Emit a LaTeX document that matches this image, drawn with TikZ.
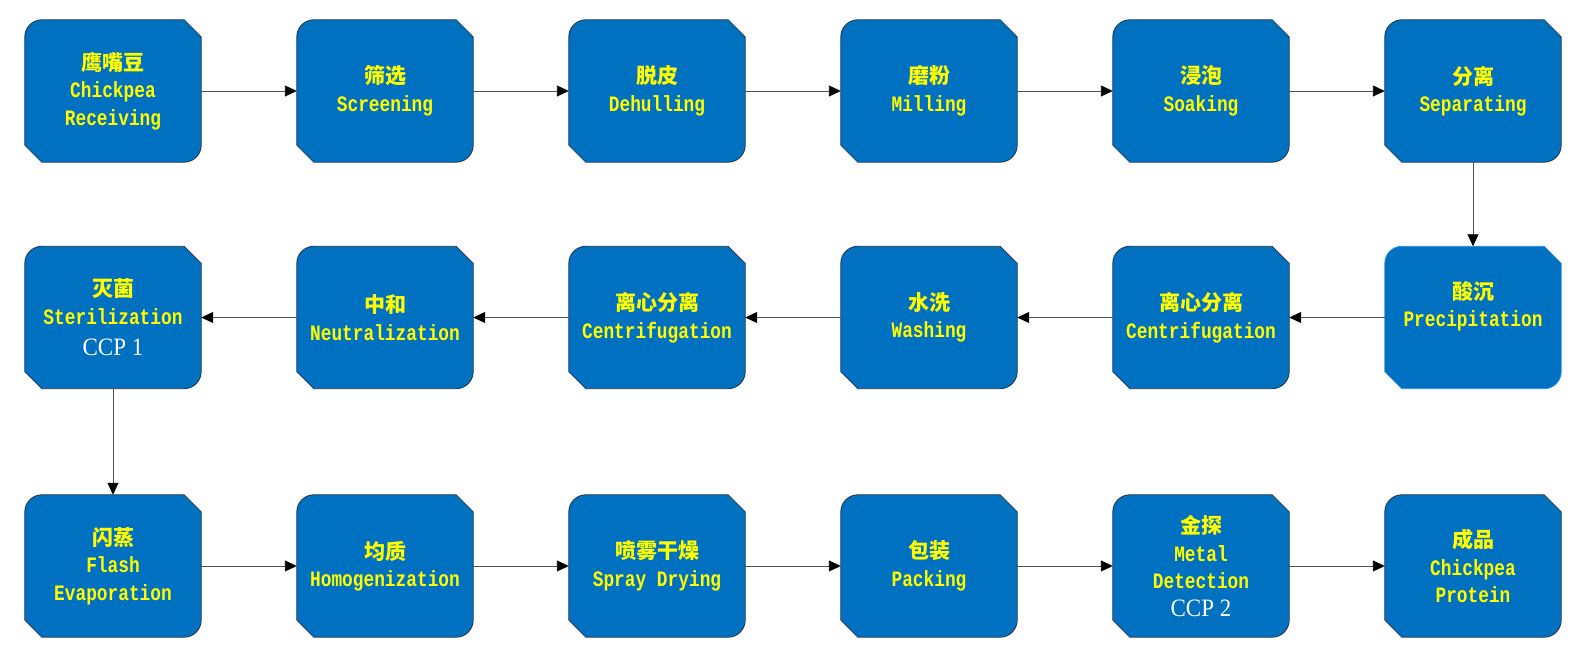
\documentclass[tikz,border=0pt]{standalone}
\usepackage{fontspec}
\usetikzlibrary{arrows.meta,backgrounds}

\newfontfamily\cnfont{Noto Sans CJK SC}
\newfontfamily\enfont[FakeStretch=0.81]{Liberation Mono}
\newfontfamily\ccpfont[FakeStretch=0.92]{Liberation Serif}

\definecolor{boxblue}{RGB}{0,112,192}
\definecolor{boxedge}{RGB}{38,52,78}
\definecolor{softedge}{RGB}{40,140,225}
\definecolor{flowgray}{RGB}{80,80,80}
\definecolor{labelyellow}{RGB}{255,255,0}

\newcommand*{\boxw}{176}
\newcommand*{\boxh}{142}
\newcommand*{\cut}{17}
\newcommand*{\rad}{17}
\newcommand*{\cn}[1]{{\cnfont\bfseries\fontsize{21}{27.5}\selectfont #1}}
\newcommand*{\ccp}[1]{{\color{white}\ccpfont\mdseries\fontsize{25}{30}\selectfont CCP #1}}

\begin{document}
\begin{tikzpicture}
[
	x=1pt, y=1pt,
	stepbox/.style={minimum width=\boxw pt, minimum height=\boxh pt, inner sep=0pt,
		align=center, text=labelyellow, font=\enfont\bfseries\fontsize{22}{27.5}\selectfont},
	flow/.style={draw=flowgray, line width=0.9pt, -{Triangle[length=12pt,width=11pt,color=black]}}
]

	\useasboundingbox (0,0) rectangle (1596,663);

	% first row
	\node[stepbox] at (113,572) (recv)   {\cn{鹰嘴豆}\\Chickpea\\Receiving};
	\node[stepbox] at (385,572) (screen) {\cn{筛选}\\Screening};
	\node[stepbox] at (657,572) (dehull) {\cn{脱皮}\\Dehulling};
	\node[stepbox] at (929,572) (mill)   {\cn{磨粉}\\Milling};
	\node[stepbox] at (1201,572) (soak)  {\cn{浸泡}\\Soaking};
	\node[stepbox] at (1473,572) (separ) {\cn{分离}\\Separating};

	% second row
	\node[stepbox] at (1473,345.5) (precip) {\cn{酸沉}\\Precipitation\\\phantom{X}};
	\node[stepbox] at (1201,345.5) (centA)  {\cn{离心分离}\\Centrifugation};
	\node[stepbox] at (929,345.5) (wash)    {\cn{水洗}\\Washing};
	\node[stepbox] at (657,345.5) (centB)   {\cn{离心分离}\\Centrifugation};
	\node[stepbox] at (385,345.5) (neutr)   {\cn{中和}\\Neutralization};
	\node[stepbox] at (113,345.5) (steril)  {\cn{灭菌}\\Sterilization\\[4pt]\ccp{1}};

	% third row
	\node[stepbox] at (113,97) (flash)    {\cn{闪蒸}\\Flash\\Evaporation};
	\node[stepbox] at (385,97) (homog)    {\cn{均质}\\Homogenization};
	\node[stepbox] at (657,97) (spray)    {\cn{喷雾干燥}\\Spray Drying};
	\node[stepbox] at (929,97) (pack)     {\cn{包装}\\Packing};
	\node[stepbox] at (1201,97) (metal)   {\cn{金探}\\Metal\\Detection\\\ccp{2}};
	\node[stepbox] at (1473,97) (product) {\cn{成品}\\Chickpea\\Protein};

	% box outlines, behind the labels
	\begin{pgfonlayer}{background}
	\foreach \n/\edge in {recv/boxedge,screen/boxedge,dehull/boxedge,mill/boxedge,
		soak/boxedge,separ/boxedge,precip/softedge,centA/boxedge,wash/boxedge,
		centB/boxedge,neutr/boxedge,steril/boxedge,flash/boxedge,homog/boxedge,
		spray/boxedge,pack/boxedge,metal/boxedge,product/boxedge} {
		\filldraw[fill=boxblue, draw=\edge, line width=0.8pt]
			([yshift=\cut]\n.south west) -- ([yshift=-\rad]\n.north west)
			arc[start angle=180, end angle=90, radius=\rad pt]
			-- ([xshift=-\cut]\n.north east) -- ([yshift=-\cut]\n.north east)
			-- ([yshift=\rad]\n.south east)
			arc[start angle=0, end angle=-90, radius=\rad pt]
			-- ([xshift=\cut]\n.south west) -- cycle;
	}
	\end{pgfonlayer}

	% connectors
	\foreach \a/\b in {recv/screen,screen/dehull,dehull/mill,mill/soak,soak/separ,
		separ/precip,precip/centA,centA/wash,wash/centB,centB/neutr,neutr/steril,
		steril/flash,flash/homog,homog/spray,spray/pack,pack/metal,metal/product} {
		\draw[flow] (\a) -- (\b);
	}

\end{tikzpicture}
\end{document}
